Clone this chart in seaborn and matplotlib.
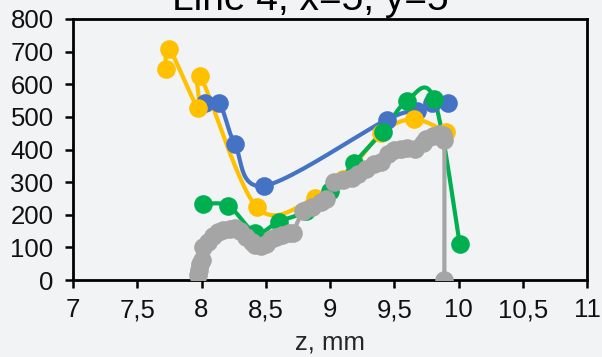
import numpy as np
import pandas as pd
import matplotlib
matplotlib.use("Agg")
import matplotlib.pyplot as plt
import seaborn as sns

# ---- data ----
blue_z = [8.03, 8.14, 8.26, 8.49, 9.44, 9.68, 9.79, 9.92]
blue_v = [542, 542, 416, 289, 491, 518, 543, 543]

yellow_z = [7.72, 7.75, 7.975, 7.99, 8.43, 8.88, 9.10, 9.40, 9.65, 9.90]
yellow_v = [646, 708, 527, 626, 223, 250, 310, 450, 493, 455]

green_z = [8.01, 8.21, 8.42, 8.60, 8.81, 9.00, 9.19, 9.41, 9.60, 9.81, 10.01]
green_v = [233, 227, 145, 179, 210, 272, 360, 455, 550, 555, 110]

gray_z = [7.97, 7.98, 7.99, 8.00, 8.01, 8.05, 8.09, 8.13, 8.17, 8.22, 8.26, 8.30,
          8.35, 8.39, 8.42, 8.46, 8.50, 8.54, 8.58, 8.63, 8.68, 8.71, 8.79, 8.86,
          8.93, 8.97, 9.03, 9.10, 9.17, 9.22, 9.28, 9.34, 9.40, 9.45, 9.50, 9.55,
          9.60, 9.66, 9.72, 9.75, 9.80, 9.85, 9.88, 9.89, 9.89]
gray_v = [15, 30, 50, 60, 100, 115, 135, 148, 153, 155, 158, 150,
          133, 115, 107, 105, 110, 125, 133, 138, 143, 145, 212, 225,
          238, 248, 300, 305, 312, 325, 340, 355, 362, 385, 400, 402,
          405, 402, 420, 432, 440, 448, 445, 428, 0]

x_ticks = [7, 7.5, 8, 8.5, 9, 9.5, 10, 10.5, 11]
x_tick_labels = ["7", "7,5", "8", "8,5", "9", "9,5", "10", "10,5", "11"]
y_ticks = [0, 100, 200, 300, 400, 500, 600, 700, 800]

series = [
    ("blue", blue_z, blue_v, "#4472C4"),
    ("yellow", yellow_z, yellow_v, "#FFC000"),
    ("green", green_z, green_v, "#00B050"),
    ("gray", gray_z, gray_v, "#A5A5A5"),
]


def smooth(xs, ys, n=24):
    """Excel-like smoothed line: cubic Bezier with Catmull-Rom control points."""
    P = np.column_stack([xs, ys]).astype(float)
    m = len(P)
    out = [P[0]]
    t = np.linspace(0, 1, n)[1:, None]
    for i in range(m - 1):
        p0 = P[i - 1] if i > 0 else P[i]
        p1 = P[i]
        p2 = P[i + 1]
        p3 = P[i + 2] if i + 2 < m else P[i + 1]
        c1 = p1 + (p2 - p0) / 6.0
        c2 = p2 - (p3 - p1) / 6.0
        seg = ((1 - t) ** 3) * p1 + 3 * ((1 - t) ** 2) * t * c1 + 3 * (1 - t) * t ** 2 * c2 + t ** 3 * p2
        out.extend(seg)
    out = np.array(out)
    return out[:, 0], out[:, 1]


bg = "#F2F3F5"
sns.set_theme(style="ticks")
plt.rcParams["font.family"] = ["Liberation Sans", "DejaVu Sans"]

fig = plt.figure(figsize=(6.02, 3.57), dpi=100, facecolor=bg)
ax = fig.add_axes([73 / 602, 1 - 280 / 357, (587 - 73) / 602, (280 - 19) / 357])
ax.set_facecolor(bg)

for name, zs, vs, col in series:
    sx, sy = smooth(zs, vs)
    line_df = pd.DataFrame({"z": sx, "v": sy})
    sns.lineplot(data=line_df, x="z", y="v", sort=False, estimator=None,
                 color=col, linewidth=3.0, ax=ax)
    pt_df = pd.DataFrame({"z": zs, "v": vs})
    sns.scatterplot(data=pt_df, x="z", y="v", color=col, s=180,
                    linewidth=0, ax=ax, zorder=3)

ax.set_xlim(7, 11)
ax.set_ylim(0, 800)
ax.set_xticks(x_ticks)
ax.set_xticklabels(x_tick_labels)
ax.set_yticks(y_ticks)
ax.tick_params(axis="both", labelsize=18.5, colors="black", length=6, width=1.8,
               direction="out")
ax.tick_params(axis="x", pad=7)
ax.tick_params(axis="y", pad=8)
for s in ax.spines.values():
    s.set_color("black")
    s.set_linewidth(2.0)
ax.set_xlabel("z, mm", fontsize=18.5, labelpad=6)
ax.set_ylabel("")
for t in ax.get_xticklabels() + ax.get_yticklabels():
    t.set_color("#111111")

fig.text(310 / 602, 1 - 10 / 357, "Line 4, x=5, y=5", ha="center", va="baseline",
         fontsize=28, color="black")

fig.savefig("out.png", dpi=100, facecolor=bg)
